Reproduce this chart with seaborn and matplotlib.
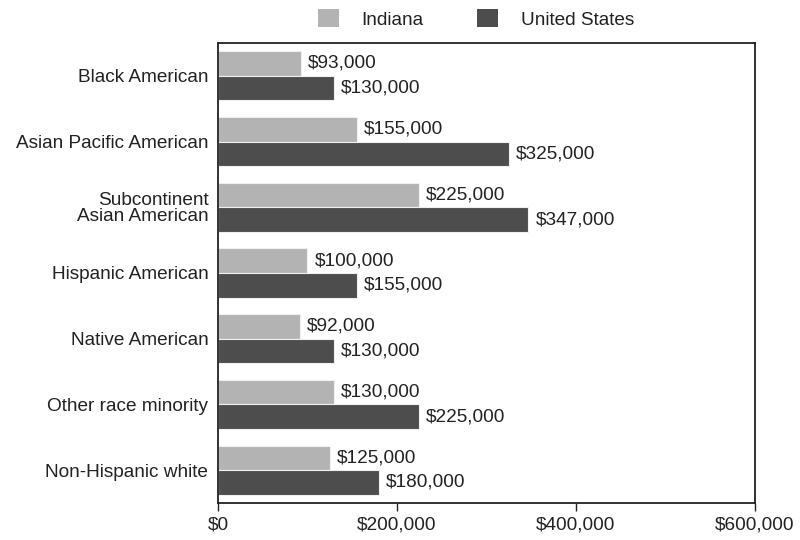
import matplotlib
matplotlib.use("Agg")
import matplotlib.pyplot as plt
import seaborn as sns
import pandas as pd
from matplotlib.ticker import FuncFormatter
from matplotlib.patches import Patch

categories = [
    "Black American",
    "Asian Pacific American",
    "Subcontinent\nAsian American",
    "Hispanic American",
    "Native American",
    "Other race minority",
    "Non-Hispanic white",
]
indiana = [93000, 155000, 225000, 100000, 92000, 130000, 125000]
united_states = [130000, 325000, 347000, 155000, 130000, 225000, 180000]
series = ["Indiana", "United States"]
x_ticks = [0, 200000, 400000, 600000]

df = pd.DataFrame({
    "group": categories * 2,
    "value": indiana + united_states,
    "area": [series[0]] * len(categories) + [series[1]] * len(categories),
})

sns.set_style("white")
plt.rcParams["font.family"] = ["Liberation Sans", "DejaVu Sans"]

FS = 13.7
TXT = "#222222"
colors = {"Indiana": "#b3b3b3", "United States": "#4d4d4d"}

fig = plt.figure(figsize=(8, 5.4), dpi=100)
ax = fig.add_axes([0.2725, 0.0685, 0.671, 0.852])

sns.barplot(data=df, y="group", x="value", hue="area", orient="h",
            palette=colors, width=0.75, edgecolor="#f0f0f0", linewidth=0.8,
            order=categories, hue_order=series, ax=ax, legend=False)

for container, vals in zip(ax.containers, [indiana, united_states]):
    ax.bar_label(container, labels=[f"${v:,.0f}" for v in vals],
                 padding=5, fontsize=FS, color=TXT)

ax.set_xlim(0, 600000)
ax.set_ylim(6.5, -0.5)
ax.set_xticks(x_ticks)
ax.xaxis.set_major_formatter(FuncFormatter(lambda v, p: f"${v:,.0f}"))
ax.set_xlabel("")
ax.set_ylabel("")
ax.tick_params(axis="x", bottom=True, length=6, width=1, color=TXT,
               labelsize=FS, labelcolor=TXT, pad=4)
ax.tick_params(axis="y", left=False, length=0, labelsize=FS,
               labelcolor=TXT, pad=7)
for lbl in ax.get_yticklabels():
    lbl.set_linespacing(0.9)
for s in ax.spines.values():
    s.set_visible(True)
    s.set_color(TXT)
    s.set_linewidth(1.3)

handles = [Patch(facecolor=colors[s], edgecolor="none") for s in series]
fig.legend(handles, series, loc="center", bbox_to_anchor=(0.595, 0.965),
           ncol=2, frameon=False, fontsize=FS, handlelength=1.1,
           handleheight=1.1, columnspacing=2.8, handletextpad=1.2,
           labelcolor=TXT)

fig.savefig("out.png", dpi=100, facecolor="white")
